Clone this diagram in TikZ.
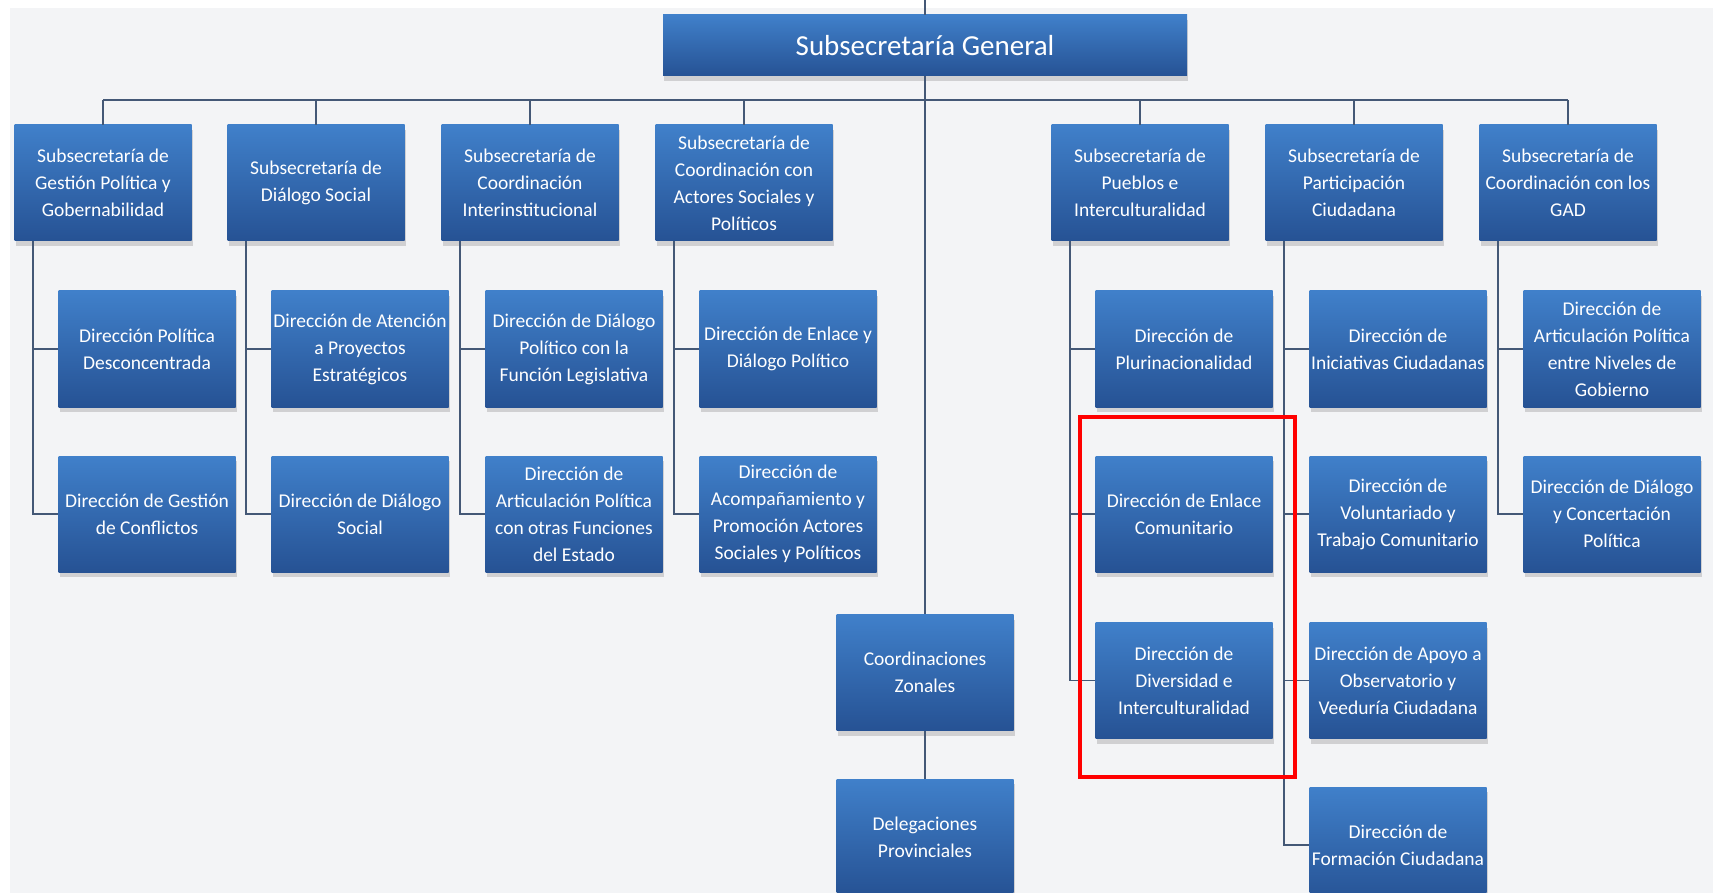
\documentclass[tikz,border=0pt]{standalone}
\usepackage{fontspec}
\setmainfont{Carlito}
\usetikzlibrary{shadows,positioning}
\definecolor{boxtop}{RGB}{64,128,202}
\definecolor{boxbot}{RGB}{38,82,148}
\definecolor{linkcol}{RGB}{68,88,118}
\definecolor{bgcol}{RGB}{243,244,246}
\begin{document}
\begin{tikzpicture}[x=1pt,y=-1pt]
\tikzstyle{every node}+=[inner sep=0pt]
\tikzstyle{orgbox}=[rectangle, minimum width=177pt, minimum height=116pt, top color=boxtop, bottom color=boxbot, text=white, align=center, font=\fontsize{19.5}{27}\selectfont, drop shadow={shadow xshift=1pt, shadow yshift=-5pt, opacity=0.3}]
\tikzstyle{link}=[draw=linkcol, line width=1.8pt]
\useasboundingbox (0,0) rectangle (1713,893);
\clip (0,0) rectangle (1713,893);
\fill[white] (0,0) rectangle (1713,893);
\fill[bgcol] (10,8) rectangle (1713,893);
\node[orgbox, minimum width=524pt, minimum height=61pt, font=\fontsize{29}{34}\selectfont] (gen) at (925,45.5) {Subsecretaría General};
\node[orgbox] (gp) at (103,183) {Subsecretaría de\\Gestión Política y\\Gobernabilidad};
\node[orgbox] (ds) at (316,183) {Subsecretaría de\\Diálogo Social};
\node[orgbox] (ci) at (530,183) {Subsecretaría de\\Coordinación\\Interinstitucional};
\node[orgbox] (ca) at (744,183) {Subsecretaría de\\Coordinación con\\Actores Sociales y\\Políticos};
\node[orgbox] (pi) at (1140,183) {Subsecretaría de\\Pueblos e\\Interculturalidad};
\node[orgbox] (pc) at (1354,183) {Subsecretaría de\\Participación\\Ciudadana};
\node[orgbox] (gad) at (1568,183) {Subsecretaría de\\Coordinación con los\\GAD};
\node[orgbox] (gp1) at (147,349) {Dirección Política\\Desconcentrada};
\node[orgbox] (gp2) at (147,514) {Dirección de Gestión\\de Conflictos};
\node[orgbox] (ds1) at (360,349) {Dirección de Atención\\a Proyectos\\Estratégicos};
\node[orgbox] (ds2) at (360,514) {Dirección de Diálogo\\Social};
\node[orgbox] (ci1) at (574,349) {Dirección de Diálogo\\Político con la\\Función Legislativa};
\node[orgbox] (ci2) at (574,514) {Dirección de\\Articulación Política\\con otras Funciones\\del Estado};
\node[orgbox] (ca1) at (788,349) {Dirección de Enlace y\\Diálogo Político};
\node[orgbox] (ca2) at (788,514) {Dirección de\\Acompañamiento y\\Promoción Actores\\Sociales y Políticos};
\node[orgbox] (zon) at (925,672.5) {Coordinaciones\\Zonales};
\node[orgbox] (del) at (925,837) {Delegaciones\\Provinciales};
\node[orgbox] (pi1) at (1184,349) {Dirección de\\Plurinacionalidad};
\node[orgbox] (pi2) at (1184,514) {Dirección de Enlace\\Comunitario};
\node[orgbox] (pi3) at (1184,680.5) {Dirección de\\Diversidad e\\Interculturalidad};
\node[orgbox] (pc1) at (1398,349) {Dirección de\\Iniciativas Ciudadanas};
\node[orgbox] (pc2) at (1398,514) {Dirección de\\Voluntariado y\\Trabajo Comunitario};
\node[orgbox] (pc3) at (1398,680.5) {Dirección de Apoyo a\\Observatorio y\\Veeduría Ciudadana};
\node[orgbox] (pc4) at (1398,845) {Dirección de\\Formación Ciudadana};
\node[orgbox] (gad1) at (1612,349) {Dirección de\\Articulación Política\\entre Niveles de\\Gobierno};
\node[orgbox] (gad2) at (1612,514) {Dirección de Diálogo\\y Concertación\\Política};
\coordinate (edge) at (925,0);
\coordinate (busw) at (103,100);
\coordinate (buse) at (1568,100);
\draw[link] (edge) -- (gen.north);
\draw[link] (gen.south) -- (zon.north);
\draw[link] (zon.south) -- (del.north);
\draw[link] (busw) -- (buse);
\draw[link] (gp.north) -- (gp.north |- busw);
\draw[link] (ds.north) -- (ds.north |- busw);
\draw[link] (ci.north) -- (ci.north |- busw);
\draw[link] (ca.north) -- (ca.north |- busw);
\draw[link] (pi.north) -- (pi.north |- busw);
\draw[link] (pc.north) -- (pc.north |- busw);
\draw[link] (gad.north) -- (gad.north |- busw);
\draw[link] ([xshift=19pt]gp.south west) |- (gp1.west);
\draw[link] ([xshift=19pt]gp.south west) |- (gp2.west);
\draw[link] ([xshift=19pt]ds.south west) |- (ds1.west);
\draw[link] ([xshift=19pt]ds.south west) |- (ds2.west);
\draw[link] ([xshift=19pt]ci.south west) |- (ci1.west);
\draw[link] ([xshift=19pt]ci.south west) |- (ci2.west);
\draw[link] ([xshift=19pt]ca.south west) |- (ca1.west);
\draw[link] ([xshift=19pt]ca.south west) |- (ca2.west);
\draw[link] ([xshift=19pt]pi.south west) |- (pi1.west);
\draw[link] ([xshift=19pt]pi.south west) |- (pi2.west);
\draw[link] ([xshift=19pt]pi.south west) |- (pi3.west);
\draw[link] ([xshift=19pt]pc.south west) |- (pc1.west);
\draw[link] ([xshift=19pt]pc.south west) |- (pc2.west);
\draw[link] ([xshift=19pt]pc.south west) |- (pc3.west);
\draw[link] ([xshift=19pt]pc.south west) |- (pc4.west);
\draw[link] ([xshift=19pt]gad.south west) |- (gad1.west);
\draw[link] ([xshift=19pt]gad.south west) |- (gad2.west);
\draw[red, line width=4.5pt] (1080,417) rectangle (1295,777);
\end{tikzpicture}
\end{document}
